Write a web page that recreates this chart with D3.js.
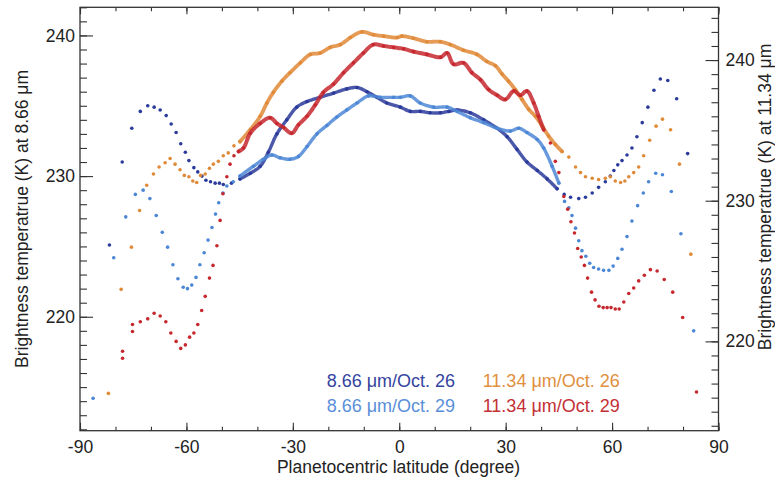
<!DOCTYPE html>
<html>
<head>
<meta charset="utf-8">
<script src="https://cdn.jsdelivr.net/npm/d3@7"></script>
<style>
  body { margin: 0; background: #fff; }
  svg text { font-family: "Liberation Sans", Arial, sans-serif; fill: #222; }
</style>
</head>
<body>
<svg id="chart"></svg>
<script>
// [latitude, brightness temperature]
var dark26 = [ // 8.66 um / Oct. 26 (left axis)
  [-81.7,225.1],[-78.1,231.0],[-75.4,233.4],[-73.0,234.6],[-70.9,235.0],[-69.1,234.9],[-67.4,234.7],[-65.7,234.3],
  [-64.3,233.7],[-62.9,233.1],[-61.6,232.3],[-60.3,231.7],[-59.3,231.1],[-57.9,230.6],[-56.8,230.3],[-55.6,230.0],
  [-54.5,229.7],[-53.2,229.6],[-51.9,229.5],[-50.7,229.5],[-49.6,229.4],[-47.3,229.5],[-44.9,229.8],[-42.0,230.2],
  [-39.2,230.7],[-36.9,231.7],[-34.5,233.0],[-31.7,234.0],[-28.9,234.9],[-26.0,235.3],[-22.3,235.6],[-18.5,235.9],
  [-14.8,236.2],[-11.9,236.3],[-9.1,236.0],[-6.3,235.6],[-3.5,235.2],[0.3,234.9],[3.1,234.6],[5.9,234.6],
  [8.7,234.5],[11.6,234.5],[14.0,234.6],[16.3,234.7],[20.0,234.5],[23.8,234.0],[27.6,233.4],[30.4,232.8],
  [33.2,231.9],[36.0,231.0],[38.9,230.4],[41.7,229.8],[44.5,229.1],[46.5,228.7],[48.3,228.5],[50.6,228.4],
  [52.5,228.5],[54.4,228.8],[56.2,229.2],[58.1,229.6],[59.5,230.0],[60.5,230.4],[61.6,230.8],[62.8,231.1],
  [64.2,231.5],[65.6,232.0],[67.0,232.8],[68.5,233.8],[70.1,234.9],[71.8,236.1],[73.6,236.9],[75.7,236.8],
  [78.2,235.5],[81.3,231.6]
];
var light29 = [ // 8.66 um / Oct. 29 (left axis)
  [-86.3,214.2],[-80.5,224.2],[-77.1,227.1],[-74.4,228.7],[-72.2,229.0],[-70.3,228.4],[-68.5,227.2],[-66.8,226.0],
  [-65.3,224.95],[-63.8,223.7],[-62.4,222.7],[-60.9,222.1],[-59.7,222.0],[-58.5,222.25],[-57.3,222.8],[-56.2,223.7],
  [-55.0,224.55],[-53.9,225.45],[-52.8,226.35],[-51.8,227.3],[-50.9,228.1],[-49.7,228.8],[-48.6,229.3],[-46.8,229.6],
  [-44.9,230.0],[-41.1,230.7],[-38.3,231.2],[-35.9,231.5],[-33.6,231.3],[-30.8,231.2],[-28.4,231.4],[-26.0,232.1],
  [-23.2,233.0],[-20.4,233.6],[-17.6,234.2],[-14.8,234.7],[-11.9,235.2],[-8.7,235.7],[-5.4,235.6],[-1.6,235.6],
  [0.3,235.6],[3.1,235.7],[5.9,235.2],[9.7,234.9],[13.5,234.9],[16.3,234.6],[20.0,234.15],[23.8,233.8],
  [27.6,233.4],[31.3,233.2],[33.7,233.4],[36.0,233.1],[38.9,232.6],[40.7,232.0],[43.1,230.7],[45.0,229.5],
  [46.6,228.2],[47.8,227.75],[48.7,227.2],[49.7,226.3],[50.6,225.4],[51.5,224.7],[52.6,224.3],[53.7,223.8],
  [54.8,223.5],[56.2,223.4],[57.6,223.3],[59.1,223.3],[60.3,223.6],[61.6,224.15],[62.8,224.8],[64.2,225.7],
  [65.6,226.8],[67.2,227.9],[68.8,228.8],[70.3,229.6],[72.3,230.2],[74.2,230.1],[76.7,228.9],[79.4,225.9],
  [83.0,219.0]
];
var orange26 = [ // 11.34 um / Oct. 26 (right axis)
  [-82.0,216.3],[-78.4,223.7],[-75.5,226.7],[-73.2,229.3],[-71.2,231.1],[-69.3,231.9],[-67.7,232.4],[-66.0,232.7],
  [-64.6,233.0],[-63.2,232.6],[-61.8,232.2],[-60.6,231.8],[-59.3,231.7],[-58.2,231.4],[-57.1,231.3],[-56.0,231.8],
  [-54.7,231.9],[-53.5,232.3],[-52.4,232.6],[-51.0,232.8],[-49.6,233.2],[-48.2,233.4],[-46.6,233.9],[-44.9,234.2],
  [-42.0,235.05],[-39.2,236.0],[-37.3,236.95],[-35.5,237.7],[-33.1,238.5],[-30.8,239.1],[-27.9,239.8],[-25.1,240.4],
  [-22.3,240.5],[-19.5,240.9],[-16.6,241.1],[-13.8,241.6],[-10.5,242.0],[-7.3,241.8],[-4.4,241.7],[-0.6,241.6],
  [0.8,241.7],[4.0,241.55],[7.8,241.3],[11.6,241.3],[14.4,241.1],[18.1,240.7],[21.9,240.4],[24.7,239.9],
  [27.1,239.6],[29.0,239.0],[30.8,238.5],[32.7,237.9],[34.6,237.2],[36.5,236.5],[38.4,236.0],[40.3,235.3],
  [42.1,234.6],[44.0,234.0],[45.9,233.5],[47.8,233.1],[49.7,232.4],[51.1,232.0],[52.5,231.7],[54.4,231.6],
  [56.2,231.5],[58.1,231.6],[59.5,231.7],[60.9,231.4],[62.4,231.3],[63.6,231.4],[64.7,231.7],[66.1,232.0],
  [67.5,232.4],[68.9,233.2],[70.6,234.3],[72.4,235.3],[74.2,235.8],[76.5,235.05],[79.0,232.6],[82.2,226.2]
];
var red29 = [ // 11.34 um / Oct. 29 (right axis)
  [-78.0,219.3],[-78.0,218.8],[-75.2,221.2],[-75.2,220.7],[-73.0,221.4],[-70.9,221.6],[-69.1,222.0],[-67.4,221.8],
  [-65.8,221.4],[-64.4,220.6],[-62.9,220.0],[-61.6,219.5],[-60.3,219.75],[-59.1,220.3],[-57.9,220.6],[-56.8,221.2],
  [-55.7,222.2],[-54.7,223.2],[-53.5,224.5],[-52.5,225.4],[-51.4,226.8],[-50.5,228.6],[-49.7,230.5],[-48.6,231.7],
  [-47.7,232.6],[-46.6,233.2],[-45.3,233.5],[-43.9,233.75],[-42.0,234.8],[-39.2,235.5],[-36.4,235.9],[-34.5,235.5],
  [-32.6,235.2],[-30.3,234.8],[-28.4,235.4],[-26.0,236.0],[-23.7,236.8],[-21.4,237.7],[-18.5,238.3],[-15.7,239.1],
  [-12.9,239.8],[-10.1,240.5],[-7.3,241.1],[-4.4,241.0],[-1.6,240.9],[1.2,240.8],[4.0,240.6],[7.8,240.4],
  [11.6,240.2],[13.5,240.5],[15.3,239.7],[18.1,239.8],[20.5,239.1],[22.9,238.6],[25.2,237.9],[27.6,237.5],
  [29.9,237.2],[32.3,237.8],[34.1,237.5],[36.0,237.8],[37.9,236.95],[39.3,236.0],[40.7,235.05],[42.6,234.1],
  [44.0,232.8],[45.0,232.0],[46.4,230.3],[47.5,229.4],[48.4,228.5],[49.4,227.7],[50.3,226.6],[51.3,226.0],
  [52.2,225.4],[53.1,224.5],[54.2,223.5],[55.2,222.95],[56.3,222.5],[57.5,222.4],[58.6,222.4],[59.7,222.4],
  [60.9,222.3],[62.0,222.3],[63.3,222.8],[64.7,223.4],[66.1,223.8],[67.5,224.3],[69.1,224.7],[70.8,225.1],
  [72.7,225.0],[74.7,224.4],[77.1,223.5],[79.9,221.7],[83.8,216.4]
];

var xTicks = [-90, -60, -30, 0, 30, 60, 90];
var leftTicks = [220, 230, 240];
var rightTicks = [220, 230, 240];
var legendLabels = ['8.66 \u03bcm/Oct. 26', '8.66 \u03bcm/Oct. 29', '11.34 \u03bcm/Oct. 26', '11.34 \u03bcm/Oct. 29'];

var W = 775, H = 477;
var margin = { top: 7.3, left: 80, bottom: 46.3, right: 56.5 },
    width = W - margin.left - margin.right,
    height = H - margin.top - margin.bottom;

var colors = ['#2b3b9b', '#4c87d6', '#e08a38', '#c6282e'];
var legendColors = ['#34449f', '#5a8fd8', '#e0903e', '#c33036'];

var svg = d3.select('#chart')
    .attr('width', W)
    .attr('height', H)
    .append('g')
    .attr('transform', 'translate(' + margin.left + ',' + margin.top + ')');

var x = d3.scaleLinear().domain([-90, 90]).range([0, width]);
var yL = d3.scaleLinear().domain([211.9, 242.0]).range([height, 0]);
var yR = d3.scaleLinear().domain([213.65, 243.75]).range([height, 0]);

// axes: minor ticks without labels, majors with labels, all pointing inward
function addAxis(axis, tr, labels) {
    var g = svg.append('g').attr('transform', tr).call(axis);
    g.select('.domain').remove();
    g.selectAll('line').attr('stroke', '#333').attr('stroke-width', 1.1);
    if (!labels) g.selectAll('text').remove();
    else g.selectAll('text').style('font-size', '17.5px').attr('fill', '#222');
    return g;
}
var minorX = d3.range(-90, 91, 10);
addAxis(d3.axisBottom(x).tickValues(minorX).tickSize(-4), 'translate(0,' + height + ')', false);
addAxis(d3.axisBottom(x).tickValues(xTicks).tickSize(-8).tickPadding(10).tickFormat(d => String(d)), 'translate(0,' + height + ')', true);
addAxis(d3.axisTop(x).tickValues(minorX).tickSize(-4), 'translate(0,0)', false);
addAxis(d3.axisTop(x).tickValues(xTicks).tickSize(-7), 'translate(0,0)', false);

addAxis(d3.axisLeft(yL).tickValues(d3.range(212, 243, 1)).tickSize(-7), null, false);
addAxis(d3.axisLeft(yL).tickValues(leftTicks).tickSize(-13).tickPadding(5), null, true);
addAxis(d3.axisRight(yR).tickValues(d3.range(214, 244, 1)).tickSize(-7), 'translate(' + width + ',0)', false);
addAxis(d3.axisRight(yR).tickValues(rightTicks).tickSize(-13).tickPadding(7), 'translate(' + width + ',0)', true);

svg.append('rect')
    .attr('width', width)
    .attr('height', height)
    .attr('fill', 'none')
    .attr('stroke', '#333')
    .attr('stroke-width', 1.3);

// series: dense band near the equator as a line, dots everywhere
var series = [
    { data: dark26, y: yL, color: colors[0], band: 3.4, lo: -46, hi: 46 },
    { data: light29, y: yL, color: colors[1], band: 3.4, lo: -46, hi: 46 },
    { data: orange26, y: yR, color: colors[2], band: 3.8, lo: -46, hi: 46 },
    { data: red29, y: yR, color: colors[3], band: 4, lo: -46, hi: 41 }
];

series.forEach(function (s) {
    var line = d3.line()
        .x(d => x(d[0]))
        .y(d => s.y(d[1]))
        .curve(d3.curveCatmullRom);
    svg.append('path')
        .datum(s.data.filter(d => d[0] >= s.lo && d[0] <= s.hi))
        .attr('d', line)
        .attr('fill', 'none')
        .attr('stroke', s.color)
        .attr('stroke-width', s.band)
        .attr('stroke-linecap', 'round')
        .attr('stroke-linejoin', 'round')
        .attr('stroke-dasharray', '2.5 0.8')
        .attr('opacity', 0.85);
    svg.append('g')
        .selectAll('circle')
        .data(s.data)
        .enter()
        .append('circle')
        .attr('cx', d => x(d[0]))
        .attr('cy', d => s.y(d[1]))
        .attr('r', 1.8)
        .attr('fill', s.color);
});

// legend
var legendPos = [[326.7, 387], [326.7, 411.7], [482.7, 387], [482.7, 411.7]];
legendLabels.forEach(function (t, i) {
    d3.select('#chart').append('text')
        .attr('x', legendPos[i][0])
        .attr('y', legendPos[i][1])
        .style('font-size', '18px')
        .style('fill', legendColors[i])
        .text(t);
});

// axis titles
d3.select('#chart').append('text')
    .attr('transform', 'translate(' + (W / 2 + 11) + ',473)')
    .attr('text-anchor', 'middle')
    .style('font-size', '17.5px')
    .text('Planetocentric latitude (degree)');

d3.select('#chart').append('text')
    .attr('transform', 'translate(28,' + (margin.top + height / 2) + ') rotate(-90)')
    .attr('text-anchor', 'middle')
    .style('font-size', '17.5px')
    .text('Brightness temperatrue (K) at 8.66 \u03bcm');

d3.select('#chart').append('text')
    .attr('transform', 'translate(771,197) rotate(-90)')
    .attr('text-anchor', 'middle')
    .style('font-size', '17.5px')
    .text('Brightness temperatrue (K) at 11.34 \u03bcm');
</script>
</body>
</html>
